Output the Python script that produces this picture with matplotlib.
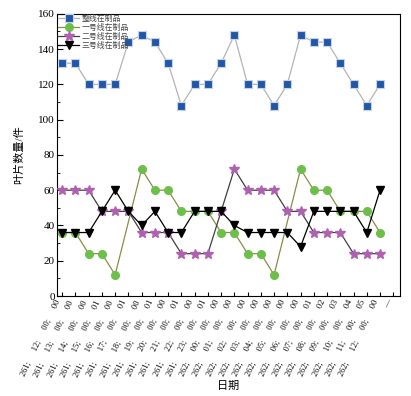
import numpy as np
import matplotlib
matplotlib.use('Agg')
import matplotlib.pyplot as plt
from matplotlib.ticker import MultipleLocator

plt.rcParams['font.family'] = ['Liberation Serif', 'Noto Sans CJK SC']
plt.rcParams['axes.unicode_minus'] = False

# work-in-process blade counts per shift
x_idx = np.arange(25)
whole_line = [132, 132, 120, 120, 120, 144, 148, 144, 132, 108, 120, 120, 132,
              148, 120, 120, 108, 120, 148, 144, 144, 132, 120, 108, 120]
# line 1 has no reading at positions 5 and 17
line1_idx = [0, 1, 2, 3, 4, 6, 7, 8, 9, 10, 11, 12, 13, 14, 15, 16,
             18, 19, 20, 21, 22, 23, 24]
line1 = [36, 36, 24, 24, 12, 72, 60, 60, 48, 48, 48, 36, 36, 24, 24, 12,
         72, 60, 60, 48, 48, 48, 36]
line2 = [60, 60, 60, 48, 48, 48, 36, 36, 36, 24, 24, 24, 48,
         72, 60, 60, 60, 48, 48, 36, 36, 36, 24, 24, 24]
line3 = [36, 36, 36, 48, 60, 48, 40, 48, 36, 36, 48, 48, 48,
         40, 36, 36, 36, 36, 28, 48, 48, 48, 48, 36, 60]

hours = ['12', '13', '14', '15', '16', '17', '18', '19', '20', '21', '22', '23',
         '00', '01', '02', '03', '04', '05', '06', '07', '08', '09', '10', '11', '12']
years = ['261'] * 12 + ['262'] * 13
tails = ['00', '00', '00', '01', '00', '01', '00', '01', '00', '01', '00', '01',
         '00', '00', '00', '00', '00', '00', '00', '01', '02', '03', '04', '05', '00']
gap = ' ' * 6
xlabels = [gap.join([y + ';', h + ';', '00;', t]) for y, h, t in zip(years, hours, tails)] + ['—']

fig = plt.figure(figsize=(4.11, 3.96), dpi=100)
ax = fig.add_axes([0.139, 0.2525, 0.834, 0.7125])

ax.plot(x_idx, whole_line, color='#b4b4b4', lw=0.9, marker='s', ms=5.5,
        mfc='#2257a8', mec='#c4d2ec', mew=0.8, label='整线在制品', zorder=3)
ax.plot(line1_idx, line1, color='#8c8c48', lw=0.9, marker='o', ms=5.5,
        mfc='#6cc04a', mec='#6cc04a', label='一号线在制品', zorder=3)
ax.plot(x_idx, line2, color='#404040', lw=0.9, marker='*', ms=7,
        mfc='#b060b0', mec='#b060b0', label='二号线在制品', zorder=3)
ax.plot(x_idx, line3, color='black', lw=0.9, marker='v', ms=6,
        mfc='black', mec='black', label='三号线在制品', zorder=4)

ax.set_xlim(-0.38, 25.5)
ax.set_ylim(0, 160)
ax.yaxis.set_major_locator(MultipleLocator(20))
ax.yaxis.set_minor_locator(MultipleLocator(10))
ax.set_xticks(np.arange(26))
ax.set_xticklabels(xlabels, rotation=65, ha='right', fontsize=6)
ax.tick_params(axis='both', which='both', direction='in')
ax.tick_params(axis='y', which='major', length=4, labelsize=8, pad=1.5)
ax.tick_params(axis='y', which='minor', length=2)
ax.tick_params(axis='x', length=3, pad=2)

ax.set_ylabel('叶片数量/件', fontsize=8, labelpad=10)
ax.set_xlabel('日期', fontsize=8, labelpad=2)

leg = ax.legend(loc='upper left', bbox_to_anchor=(0, 1), frameon=False,
                fontsize=5.7, labelspacing=0.12, handlelength=2.6,
                handletextpad=0.3, borderpad=0.15, borderaxespad=0)
for t in leg.get_texts():
    t.set_color('#444444')

fig.savefig('out.png', dpi=100)
